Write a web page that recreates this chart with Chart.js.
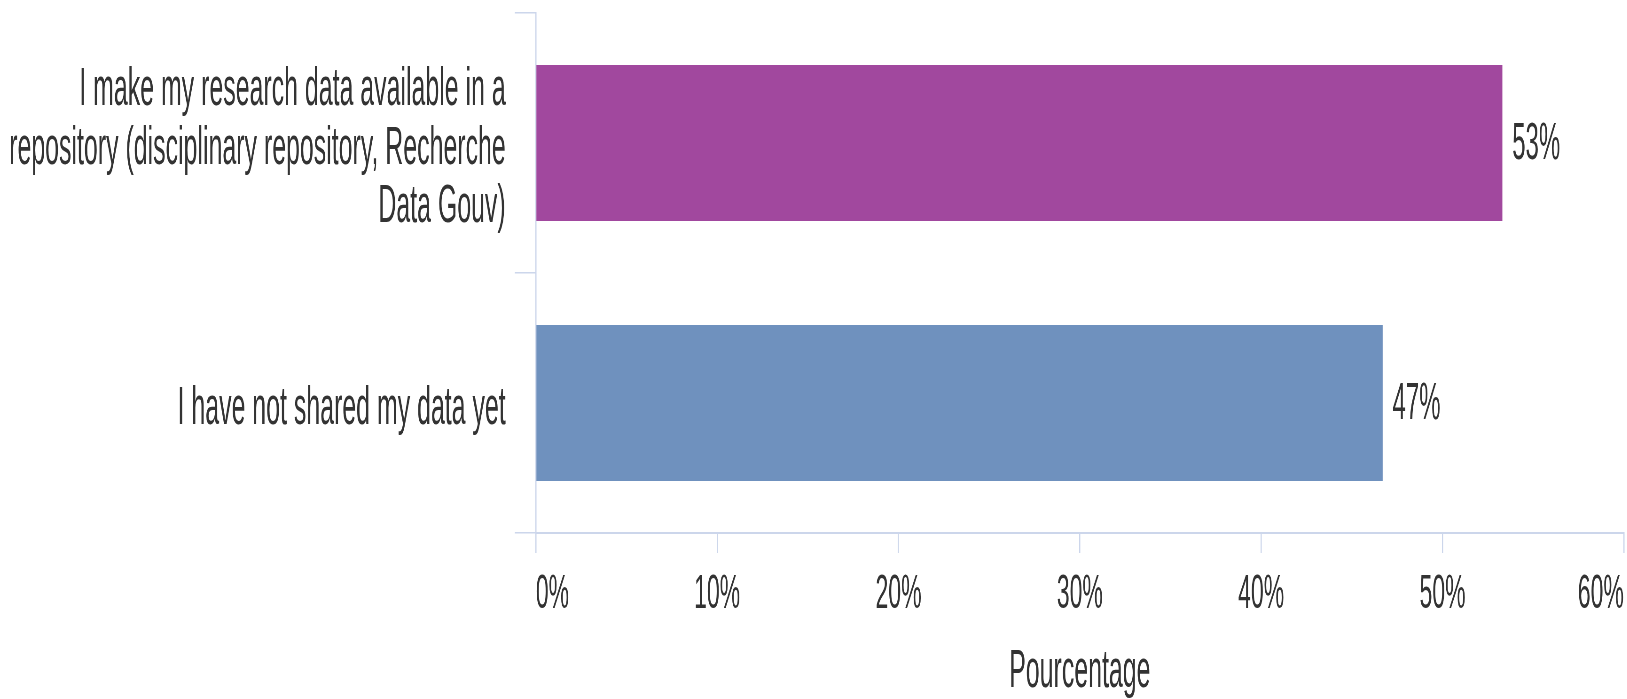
<!DOCTYPE html>
<html>
<head>
<meta charset="utf-8">
<script src="https://cdn.jsdelivr.net/npm/chart.js@4/dist/chart.umd.min.js"></script>
<style>
  html, body { margin: 0; padding: 0; background: #fff; overflow: hidden; width: 1627px; height: 699px; }
  /* the reference uses a very narrow font: draw wide, then squeeze horizontally */
  #wrap { width: 3462px; height: 699px; transform: scaleX(0.47); transform-origin: 0 0; }
</style>
</head>
<body>
<div id="wrap"><canvas id="shareChart" width="3462" height="699"></canvas></div>
<script>
const categories = [
  ['I make my research data available in a', 'repository (disciplinary repository, Recherche', 'Data Gouv)'],
  'I have not shared my data yet'
];
const percentValues = [53.3, 46.7];
const barColors = ['#a1489e', '#6f91be'];
const xTickMax = 60;
const axisTitle = 'Pourcentage';

const FONT = "'Liberation Sans', Arial, sans-serif";
const TEXT = '#333333';
const LINE = '#ccd6eb';

// value labels at the end of each bar
const barLabels = {
  id: 'barLabels',
  afterDatasetsDraw(chart) {
    const ctx = chart.ctx;
    const meta = chart.getDatasetMeta(0);
    ctx.save();
    ctx.font = `51px ${FONT}`;
    ctx.fillStyle = TEXT;
    ctx.textAlign = 'left';
    ctx.textBaseline = 'middle';
    meta.data.forEach((bar, i) => {
      ctx.fillText(Math.round(percentValues[i]) + '%', bar.x + 21, bar.y + 2);
    });
    ctx.restore();
  }
};

const ctx = document.getElementById('shareChart').getContext('2d');
new Chart(ctx, {
  type: 'bar',
  data: {
    labels: categories,
    datasets: [{
      data: percentValues,
      backgroundColor: barColors,
      borderWidth: 0,
      barPercentage: 0.6,
      categoryPercentage: 1
    }]
  },
  options: {
    indexAxis: 'y',
    responsive: false,
    animation: false,
    devicePixelRatio: 1,
    layout: { padding: { top: 13, left: 0, right: 7, bottom: 0 } },
    plugins: { legend: { display: false }, tooltip: { enabled: false } },
    scales: {
      x: {
        min: 0,
        max: xTickMax,
        ticks: {
          stepSize: 10,
          align: 'inner',
          padding: 12,
          color: TEXT,
          font: { family: FONT, size: 49, lineHeight: 1.2 },
          callback: v => v + '%'
        },
        grid: { drawOnChartArea: false, drawTicks: true, tickLength: 20, color: LINE, lineWidth: 2.5 },
        border: { display: true, color: LINE, width: 2 },
        title: {
          display: true,
          text: axisTitle,
          color: TEXT,
          font: { family: FONT, size: 53, lineHeight: 1 },
          padding: { top: 0, bottom: 0 }
        },
        afterFit(scale) {
          scale.height = 166;
          scale.paddingLeft = 0;
          scale.paddingRight = 0;
        }
      },
      y: {
        ticks: {
          padding: 19,
          labelOffset: 6,
          color: TEXT,
          font: { family: FONT, size: 53, lineHeight: 1.1 }
        },
        grid: { offset: true, drawOnChartArea: false, drawTicks: true, tickLength: 45, color: LINE, lineWidth: 1.5 },
        border: { display: true, color: LINE, width: 2.5 },
        afterFit(scale) {
          scale.width = 1140;
          scale.paddingTop = 0;
          scale.paddingBottom = 0;
        }
      }
    }
  },
  plugins: [barLabels]
});
</script>
</body>
</html>
